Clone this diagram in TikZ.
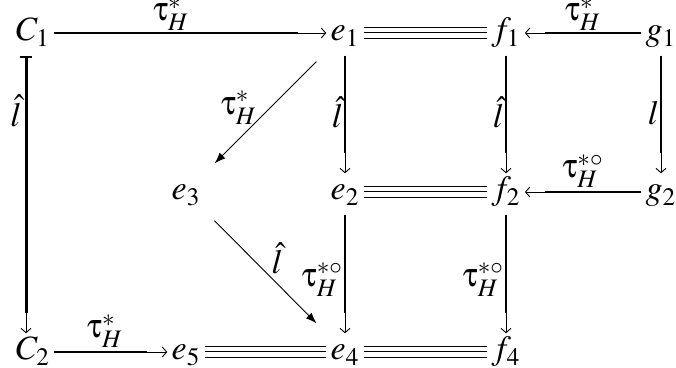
\documentclass[tikz,border=0pt]{standalone}
\usepackage{mathptmx}
\usepackage[Symbol]{upgreek}
\usetikzlibrary{arrows.meta}
\newcommand{\tH}{\uptau^{\raisebox{-0.45ex}{$\scriptstyle *$}}_{H}}
\newcommand{\tHo}{\uptau^{\raisebox{-0.45ex}{$\scriptstyle *\circ$}}_{H}}
\begin{document}
\begin{tikzpicture}[x=0.5pt,y=-0.5pt,
  every node/.style={font=\fontsize{17}{20}\selectfont},
  obj/.style={inner xsep=2pt, inner ysep=1.5pt, text height=11.6pt, text depth=3.7pt},
  lbl/.style={inner sep=0.5pt},
  tarr/.style={line width=0.45pt, -{Straight Barb[length=2.2pt,width=5pt]}},
  thk/.style={line width=1pt},
  vthk/.style={line width=1.5pt},
  darr/.style={line width=0.45pt, -{Latex[length=5.5pt,width=4pt]}, shorten <=7pt, shorten >=7pt},
  eqd/.style={line width=0.5pt, double, double distance=5pt},
  eqm/.style={line width=0.5pt},
]
\useasboundingbox (0,0) rectangle (676,368);
% objects
\node[obj] (C1) at (33,33) {$C_1$};
\node[obj] (e1) at (345,33) {$e_1$};
\node[obj] (f1) at (506,33) {$f_1$};
\node[obj] (g1) at (661,33) {$g_1$};
\node[obj] (e3) at (186,192) {$e_3$};
\node[obj] (e2) at (345,192) {$e_2$};
\node[obj] (f2) at (506,192) {$f_2$};
\node[obj] (g2) at (661,192) {$g_2$};
\node[obj] (C2) at (33,352) {$C_2$};
\node[obj] (e5) at (186,352) {$e_5$};
\node[obj] (e4) at (345,352) {$e_4$};
\node[obj] (f4) at (506,352) {$f_4$};
% top row
\draw[tarr] (C1) -- (e1);
\draw[thk, shorten >=14pt] (C1) -- node[lbl, above=0pt, pos=0.43] (l1) {$\tH$} (e1);
\draw[eqd] (e1) -- (f1);
\draw[eqm] (e1) -- (f1);
\draw[tarr] (g1) -- (f1);
\draw[thk, shorten >=10pt] (g1) -- node[lbl, above=0pt] (l2) {$\tH$} (f1);
% verticals top
\draw[tarr, shorten <=2pt] (e1) -- (e2);
\draw[thk, shorten <=2pt, shorten >=10pt] (e1) -- node[lbl, left] (l3) {$\hat{l}$} (e2);
\draw[tarr, shorten <=2pt] (f1) -- (f2);
\draw[thk, shorten <=2pt, shorten >=10pt] (f1) -- node[lbl, left] (l4) {$\hat{l}$} (f2);
\draw[tarr, shorten <=2pt] (g1) -- (g2);
\draw[thk, shorten <=2pt, shorten >=10pt] (g1) -- node[lbl, left] (l5) {$l$} (g2);
% middle row
\draw[eqd] (e2) -- (f2);
\draw[eqm] (e2) -- (f2);
\draw[tarr] (g2) -- (f2);
\draw[thk, shorten >=10pt] (g2) -- node[lbl, above=1pt] (l6) {$\tHo$} (f2);
% diagonals
\draw[darr] (e1) -- node[lbl, pos=0.46, left=6pt] (l7) {$\tH$} (e3);
\draw[darr] (e3) -- node[lbl, pos=0.39, right=9pt] (l8) {$\hat{l}$} (e4);
% verticals bottom
\draw[tarr, shorten <=2pt] (e2) -- (e4);
\draw[thk, shorten <=2pt, shorten >=10pt] (e2) -- node[lbl, left, pos=0.56] (l9) {$\tHo$} (e4);
\draw[tarr, shorten <=2pt] (f2) -- (f4);
\draw[thk, shorten <=2pt, shorten >=10pt] (f2) -- node[lbl, left, pos=0.56] (l10) {$\tHo$} (f4);
% left column
\draw[tarr, shorten <=2pt] ([xshift=-3.5pt]C1.south) -- ([xshift=-3.5pt]C2.north);
\draw[vthk, {Bar[width=6pt,line width=1pt]}-, shorten <=2pt, shorten >=10pt] ([xshift=-3.5pt]C1.south) -- node[lbl, left=1pt, pos=0.21] (l11) {$\hat{l}$} ([xshift=-3.5pt]C2.north);
% bottom row
\draw[tarr] (C2) -- (e5);
\draw[thk, shorten >=10pt] (C2) -- node[lbl, above=1pt, pos=0.45] (l12) {$\tH$} (e5);
\draw[eqd] (e5) -- (e4);
\draw[eqm] (e5) -- (e4);
\draw[eqd] (e4) -- (f4);
\draw[eqm] (e4) -- (f4);
\end{tikzpicture}
\end{document}
